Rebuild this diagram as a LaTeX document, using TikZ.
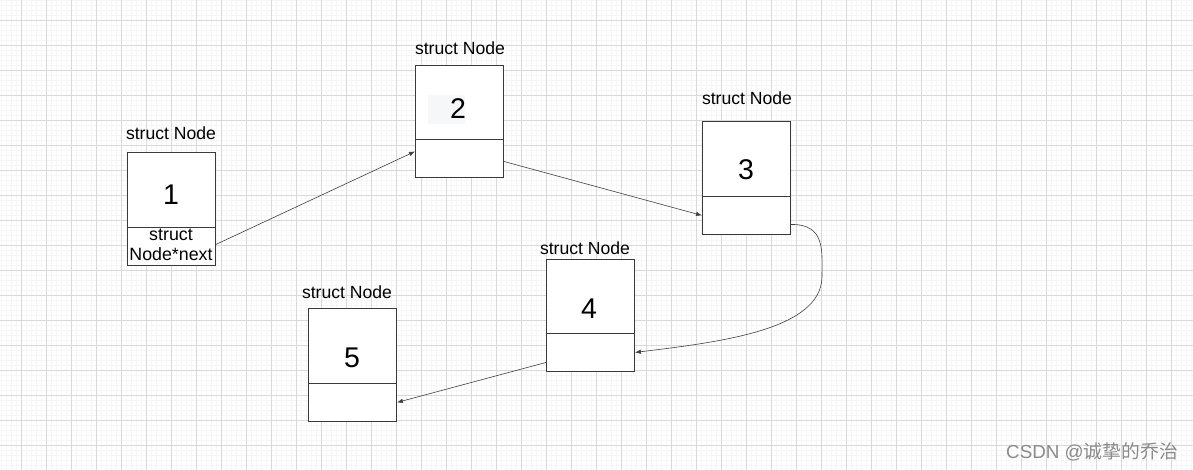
\documentclass[tikz,border=0pt]{standalone}
\usepackage{fontspec}
\setmainfont{Liberation Sans}
\newfontfamily\cjkfont{Noto Sans CJK SC}
\usetikzlibrary{arrows.meta,calc}
\definecolor{minorc}{HTML}{F6F6F6}
\definecolor{majorc}{HTML}{D9D9D9}
\definecolor{boxc}{HTML}{3A3A3A}
\definecolor{linec}{HTML}{404040}
\definecolor{wmc}{HTML}{8A8A8A}
\definecolor{hl}{HTML}{F6F7F9}
\begin{document}
\begin{tikzpicture}[x=1pt,y=-1pt,
  sec/.style={draw=boxc, fill=white, line width=0.9pt, minimum width=88pt, inner sep=0pt, anchor=north west},
  topsec/.style={sec, minimum height=75pt},
  botsec/.style={sec, minimum height=38pt},
  title/.style={font=\fontsize{17.6}{20}\selectfont, inner sep=0pt},
  num/.style={font=\fontsize{28.5}{32}\selectfont, inner sep=0pt},
  link/.style={draw=linec, line width=0.6pt, -{Latex[length=6pt,width=4.5pt]}}
]
\useasboundingbox (0,0) rectangle (1193,470);
\fill[white] (0,0) rectangle (1193,470);
% grid
\foreach \x in {1,6,...,1193} \draw[minorc, line width=0.8pt] (\x,0) -- (\x,470);
\foreach \y in {0,5,...,470} \draw[minorc, line width=0.8pt] (0,\y) -- (1193,\y);
\foreach \x in {21,46,...,1193} \draw[majorc, line width=0.8pt] (\x,0) -- (\x,470);
\foreach \y in {20,45,...,470} \draw[majorc, line width=0.8pt] (0,\y) -- (1193,\y);

% box 1
\node[topsec] (n1t) at (127,152) {};
\node[botsec] (n1b) at (127,227) {};
\node[title] (l1) at (171,133) {struct Node};
\node[num] (v1) at (171,195) {1};
\node[font=\fontsize{17.8}{20.5}\selectfont, align=center, inner sep=0pt] (p1) at (171,245) {struct\\Node*next};

% box 2
\node[topsec] (n2t) at (415,65) {};
\node[botsec] (n2b) at (415,139) {};
\fill[hl] (428,95) rectangle (465,124);
\node[title] (l2) at (460,48) {struct Node};
\node[num] (v2) at (458,109) {2};

% box 3
\node[topsec] (n3t) at (702,121) {};
\node[botsec] (n3b) at (702,196) {};
\node[title] (l3) at (747,98) {struct Node};
\node[num] (v3) at (746,170) {3};

% box 4
\node[topsec] (n4t) at (546,259) {};
\node[botsec] (n4b) at (546,333) {};
\node[title] (l4) at (585,248) {struct Node};
\node[num] (v4) at (589,309) {4};

% box 5
\node[topsec] (n5t) at (308,308) {};
\node[botsec] (n5b) at (308,383) {};
\node[title] (l5) at (347,292) {struct Node};
\node[num] (v5) at (352,358) {5};

% links
\draw[link] ($(n1b.east)+(0,-2)$) -- ($(n2b.west)+(0,-7)$);
\draw[link] ($(n2b.east)+(0,3)$) -- (n3b.west);
\draw[link] ($(n3b.east)+(0,9)$) .. controls (826,224) and (822,252) .. (822,277)
   .. controls (821,330) and (720,342) .. (n4b.east);
\draw[link] ($(n4b.west)+(0,10)$) -- (n5b.east);

% watermark
\node[text=wmc, font=\fontsize{18.8}{21}\selectfont, inner sep=0pt, anchor=east] (wm) at (1178,452) {CSDN @{\cjkfont 诚挚的乔治}};
\end{tikzpicture}
\end{document}
